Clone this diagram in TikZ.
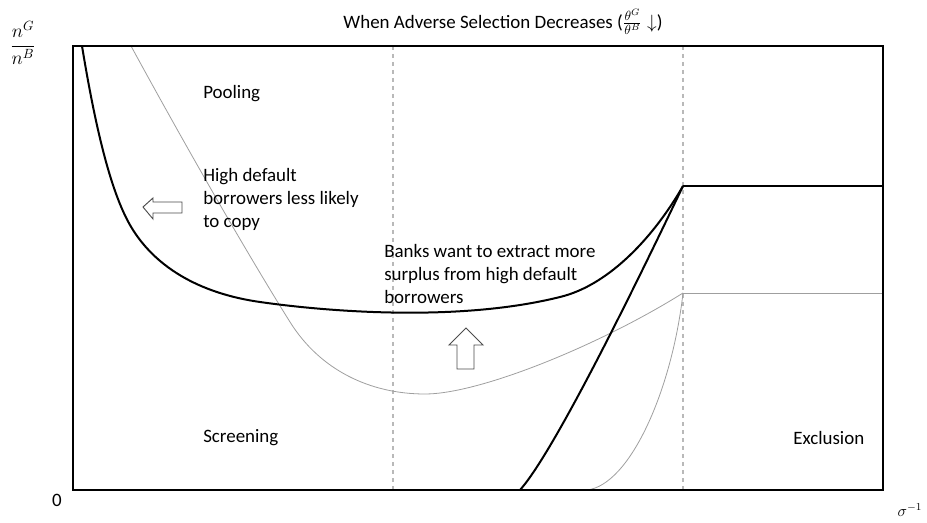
\documentclass[tikz,border=0pt]{standalone}
\usepackage{fontspec}
\setmainfont{Carlito}
\begin{document}
\begin{tikzpicture}[x=0.75pt, y=-0.75pt, font=\fontsize{14.2}{17.25}\selectfont,
  frame/.style={line width=2.2pt},
  regionline/.style={gray!55, dashed, line width=0.8pt},
  newcurve/.style={line width=1.5pt},
  oldcurve/.style={gray!75, line width=0.6pt},
  blockarrow/.style={draw=black!70, fill=white, line width=0.7pt},
  lbl/.style={anchor=west, align=left, inner sep=0pt}]
\useasboundingbox (0,0) rectangle (927,523);
\coordinate (newkink) at (683,186);
\coordinate (oldkink) at (683,293);
% regime boundaries
\draw[regionline] (393,46) -- (393,490);
\draw[regionline] (683,46) -- (683,490);
% old curves (before the change)
\draw[oldcurve] (131,46) .. controls (185,145) and (245,250) .. (290,322)
  .. controls (320,370) and (370,394) .. (425,394)
  .. controls (480,394) and (600,345) .. (oldkink);
\draw[oldcurve] (587,490) .. controls (630,485) and (672,390) .. (oldkink);
\draw[oldcurve] (oldkink) -- (883,293);
% new curves
\draw[newcurve] (82,46) .. controls (95,125) and (110,190) .. (130,225)
  .. controls (150,260) and (190,292) .. (260,302)
  .. controls (330,312) and (460,322) .. (560,297)
  .. controls (610,285) and (655,235) .. (newkink);
\draw[newcurve] (520,490) .. controls (545,462) and (600,360) .. (newkink);
\draw[newcurve] (newkink) -- (883,186);
% frame
\draw[frame] (73,46) rectangle (883,490);
% block arrows
\draw[blockarrow] (143,207) -- (153,198) -- (153,202) -- (182,202) -- (182,213) -- (153,213) -- (153,219) -- cycle;
\draw[blockarrow] (466,328) -- (483,345) -- (474,345) -- (474,369) -- (457,369) -- (457,345) -- (449,345) -- cycle;
% labels
\node (title) at (503,22) {When Adverse Selection Decreases ($\frac{\theta^G}{\theta^B}\downarrow$)};
\node (ylab) at (23,43) {\Large$\displaystyle\frac{n^G}{n^B}$};
\node (zero) at (57,500) {0};
\node (xlab) at (910,510) {\large$\sigma^{-1}$};
\node[lbl] (pooling) at (203,94) {Pooling};
\node[lbl] (copy) at (203,199) {High default\\borrowers less likely\\to copy};
\node[lbl] (extract) at (384,274) {Banks want to extract more\\surplus from high default\\borrowers};
\node[lbl] (screening) at (203,438) {Screening};
\node[lbl] (exclusion) at (793,438) {Exclusion};
\end{tikzpicture}
\end{document}
